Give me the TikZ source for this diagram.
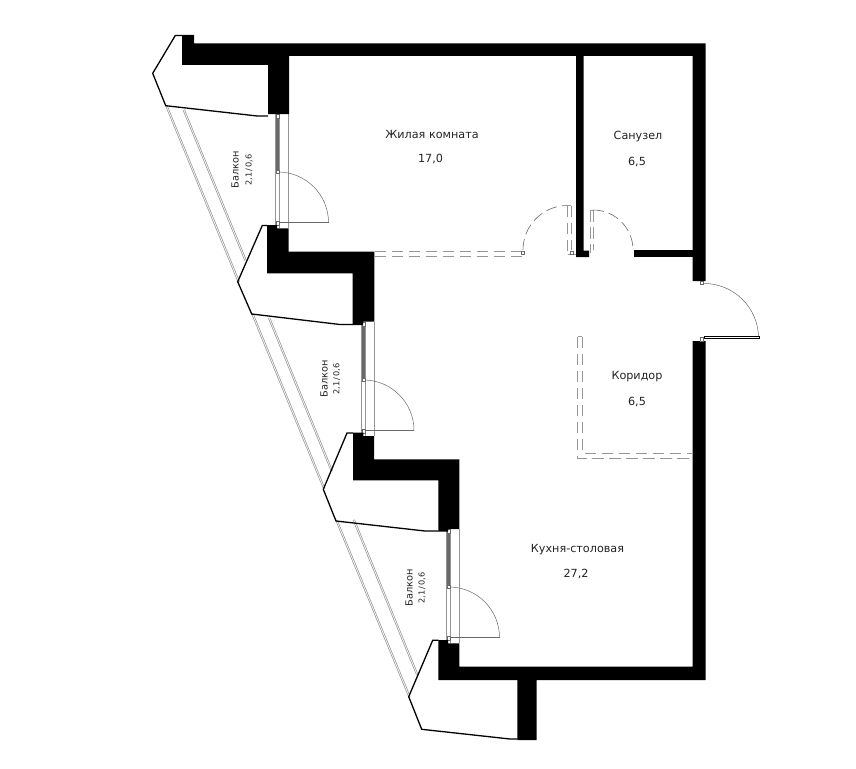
\documentclass[tikz,border=0pt]{standalone}
\usepackage{fontspec}
\setmainfont{DejaVu Sans}
\usepackage{tikz}
\usetikzlibrary{positioning}
\definecolor{planink}{RGB}{35,35,35}
\definecolor{plangray}{RGB}{150,150,150}
\definecolor{plandark}{RGB}{105,105,105}
\tikzstyle{wall} = [fill=black, draw=none]
\tikzstyle{parapet} = [draw=black, line width=1.3pt, line join=miter]
\tikzstyle{railing} = [draw=plangray, line width=0.6pt]
\tikzstyle{frameline} = [draw=plangray, line width=0.7pt]
\tikzstyle{swing} = [draw=plandark, line width=0.5pt]
\tikzstyle{joint} = [draw=plandark, fill=white, line width=0.4pt, minimum size=0pt]
\tikzstyle{zoneline} = [draw=plangray, line width=0.7pt, dash pattern=on 11.5pt off 5.5pt]
\tikzstyle{swingdash} = [draw=plandark, line width=0.6pt, dash pattern=on 11pt off 5pt]
\tikzstyle{roomlabel} = [text=planink, font=\fontsize{11.2}{13}\selectfont, inner sep=0pt]
\tikzstyle{sizelabel} = [text=planink, font=\fontsize{8.2}{10}\selectfont, inner sep=0pt, rotate=90]
\tikzstyle{balconylabel} = [text=planink, font=\fontsize{9.8}{12}\selectfont, inner sep=0pt, rotate=90]
% one balcony window with its door, drawn for the first bay
\newcommand{\balconydoor}{
    \draw[frameline] (275.7,114) -- (275.7,228);
    \draw[frameline] (279.6,114) -- (279.6,228);
    \draw[frameline] (288.6,114) -- (288.6,228);
    \fill[plandark] (276,118) rectangle (279.3,170);
    \draw[swing] (278,172) arc[start angle=-90, end angle=0, radius=50.5];
    \draw[swing] (275.7,222.5) -- (328.5,222.5);
    \draw[joint] (276.2,114.5) rectangle (279.2,118.5);
    \draw[joint] (276.2,170.5) rectangle (279.2,173.5);
    \draw[joint] (276.2,221.5) rectangle (279.2,225.5);
}
\begin{document}
\begin{tikzpicture}[x=1pt, y=-1pt]
    \useasboundingbox (0,0) rectangle (856,768);

    % Railings
    \draw[railing] (165.7,106) -- (238,282);
    \draw[railing] (167.2,105.6) -- (239.5,281.6);
    \draw[railing] (251.7,314) -- (323.5,489);
    \draw[railing] (253.2,313.6) -- (325,488.6);
    \draw[railing] (336,521) -- (408.7,697);
    \draw[railing] (337.5,520.6) -- (410.2,696.6);
    \draw[railing] (183,110) -- (245,261);
    \draw[railing] (184.5,109.6) -- (246.5,260.6);
    \draw[railing] (268.3,318) -- (331,471);
    \draw[railing] (269.8,317.6) -- (332.5,470.6);
    \draw[railing] (353,520) -- (416.5,675);
    \draw[railing] (354.5,519.6) -- (418,674.6);

    % Balcony windows
    \balconydoor
    \begin{scope}[shift={(85.5,208)}]
        \balconydoor
    \end{scope}
    \begin{scope}[shift={(171,415)}]
        \balconydoor
    \end{scope}

    % Balcony outlines
    \draw[parapet] (182,35.5) -- (175.3,35.5) -- (152.7,73.3) -- (165.7,105.7) -- (257.3,116) -- (268,116);
    \draw[parapet] (267,225.5) -- (262.3,225.5) -- (237.7,281.7) -- (251.7,314) -- (340,324.5) -- (353,324.5);
    \draw[parapet] (353,433) -- (347,433) -- (323.3,489.3) -- (336,521) -- (425,531) -- (438.5,531);
    \draw[parapet] (438.5,640.3) -- (432.7,640.3) -- (408.7,696.7) -- (421.7,729.3) -- (510,739) -- (517.5,739);

    % Walls
    \fill[wall] (182,35) -- (194,35) -- (194,43.5) -- (705.7,43.5) -- (705.7,281) -- (692.5,281) -- (692.5,56) -- (583.5,56) -- (583.5,250.5) -- (589,250.5) -- (589,257) -- (576,257) -- (576,56) -- (289,56) -- (289,114) -- (268,114) -- (268,65) -- (182,65) -- cycle;
    \fill[wall] (633.5,250.3) rectangle (692.5,257);
    \fill[wall] (267,225) -- (277,225) -- (277,228.3) -- (288.7,228.3) -- (288.7,251.7) -- (374.3,251.7) -- (374.3,321.7) -- (363,321.7) -- (363,325) -- (352.7,325) -- (352.7,273.3) -- (267,273.3) -- cycle;
    \fill[wall] (353,432.7) -- (363.3,432.7) -- (363.3,436) -- (374,436) -- (374,459.3) -- (459.3,459.3) -- (459.3,529) -- (448,529) -- (448,531.5) -- (438.3,531.5) -- (438.3,480.3) -- (353,480.3) -- cycle;
    \fill[wall] (438.3,640) -- (448,640) -- (448,643.3) -- (459.3,643.3) -- (459.3,666.7) -- (692.5,666.7) -- (692.5,341) -- (705.7,341) -- (705.7,680) -- (536.7,680) -- (536.7,740) -- (517.3,740) -- (517.3,680) -- (438.3,680) -- cycle;

    % Zone borders
    \draw[zoneline] (374.7,251.2) -- (523,251.2);
    \draw[zoneline] (374.7,256.3) -- (523,256.3);
    \draw[zoneline] (577.7,336.7) -- (577.7,458.3) -- (692,458.3);
    \draw[zoneline] (582.4,336.7) -- (582.4,453.3) -- (692,453.3);
    \draw[frameline] (577.7,336.7) -- (582.4,336.7);

    % Inner doors
    \draw[swingdash] (523,250) arc[start angle=180, end angle=270, radius=44.5];
    \draw[zoneline] (567.7,205.7) -- (567.7,253);
    \draw[zoneline] (571,205.7) -- (571,250);
    \draw[frameline] (567.7,205.7) -- (571,205.7);
    \draw[frameline] (567.7,254) -- (576,254);
    \draw[swingdash] (593,210) arc[start angle=-90, end angle=0, radius=40];
    \draw[zoneline] (590,210) -- (590,253);
    \draw[zoneline] (593.3,210) -- (593.3,250);
    \draw[frameline] (590,210) -- (593.3,210);
    \draw[joint] (521.5,251.5) rectangle (524,254.5);
    \draw[joint] (570,251) rectangle (573,254);

    % Entry door
    \draw[swing] (704,283.5) arc[start angle=-90, end angle=0, radius=54.5];
    \draw[draw=black, fill=white, line width=0.6pt] (704,336) rectangle (759.3,338.2);
    \draw[joint] (700.5,281.5) rectangle (703.5,284.5);
    \draw[joint] (700.5,337) rectangle (703.5,341);

    % Room labels
    \node[roomlabel] (livingname) at (432,134) {Жилая комната};
    \node[roomlabel] (livingarea) at (430.5,159) {17,0};
    \node[roomlabel] (bathname) at (638,137) {Санузел};
    \node[roomlabel] (batharea) at (637,162) {6,5};
    \node[roomlabel] (hallname) at (637,377) {Коридор};
    \node[roomlabel] (hallarea) at (637,402) {6,5};
    \node[roomlabel] (kitchenname) at (577.5,550) {Кухня-столовая};
    \node[roomlabel] (kitchenarea) at (576,574) {27,2};

    % Balcony labels
    \node[balconylabel] (balconyone) at (235,170) {Балкон};
    \node[sizelabel] (sizeone) at (249,170) {2,1\,/\,0,6};
    \node[balconylabel] (balconytwo) at (324,379) {Балкон};
    \node[sizelabel] (sizetwo) at (336.7,379) {2,1\,/\,0,6};
    \node[balconylabel] (balconythree) at (409,588) {Балкон};
    \node[sizelabel] (sizethree) at (422,588) {2,1\,/\,0,6};
\end{tikzpicture}
\end{document}
